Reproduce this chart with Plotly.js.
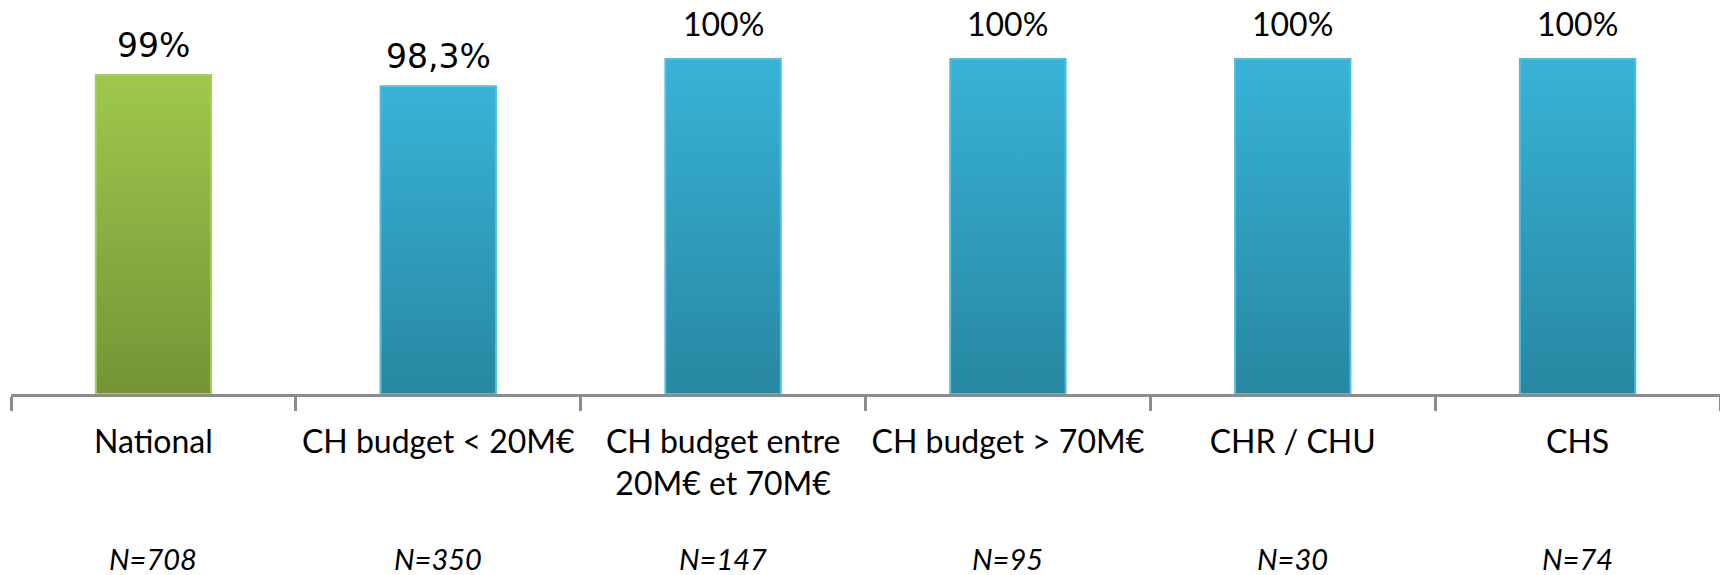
<!DOCTYPE html>
<html>
<head>
<meta charset="utf-8">
<script src="https://cdn.plot.ly/plotly-3.0.1.min.js"></script>
<style>
  html, body { margin: 0; padding: 0; background: #ffffff; }
  #chart { width: 1720px; height: 575px; }
</style>
</head>
<body>
<svg width="0" height="0" style="position:absolute">
  <defs>
    <linearGradient id="gGreen" x1="0" y1="0" x2="0" y2="1">
      <stop offset="0" stop-color="#9fc84c"/>
      <stop offset="1" stop-color="#749437"/>
    </linearGradient>
    <linearGradient id="gBlue" x1="0" y1="0" x2="0" y2="1">
      <stop offset="0" stop-color="#38b3d7"/>
      <stop offset="1" stop-color="#2887a1"/>
    </linearGradient>
  </defs>
</svg>
<div id="chart"></div>
<script>
// ---- data ----
const categories = [
  'National',
  'CH budget &lt; 20M€',
  'CH budget entre<br>20M€ et 70M€',
  'CH budget > 70M€',
  'CHR / CHU',
  'CHS'
];
const values = [99, 98.3, 100, 100, 100, 100];
const valueLabels = ['99%', '98,3%', '100%', '100%', '100%', '100%'];
const nLabels = ['N=708', 'N=350', 'N=147', 'N=95', 'N=30', 'N=74'];

// ---- styles ----
const Y_MIN = 79.06, Y_MAX = 103.69;
const GREEN = '#8db544', BLUE = '#31a1c2';
const barColors = categories.map((c, i) => i === 0 ? GREEN : BLUE);
const barLines = categories.map((c, i) => i === 0 ? '#a9cf5f' : '#4cbfe0');

const trace = {
  type: 'bar',
  x: categories,
  y: values.map(v => v - Y_MIN),
  base: Y_MIN,
  width: 0.405,
  marker: { color: barColors, line: { color: barLines, width: 2 } },
  hoverinfo: 'skip'
};

const annotations = [];
valueLabels.forEach((t, i) => {
  const special = i < 2;
  annotations.push({
    x: categories[i], y: values[i], xref: 'x', yref: 'y',
    text: t, showarrow: false, yanchor: 'bottom', yshift: special ? 8 : 14,
    font: special
      ? { family: 'DejaVu Sans, sans-serif', size: 33, color: '#000' }
      : { family: 'Lato, sans-serif', size: 32, color: '#000' }
  });
});
nLabels.forEach((t, i) => {
  annotations.push({
    x: categories[i], y: 0, xref: 'x', yref: 'paper',
    text: '<i>' + t + '</i>', showarrow: false, yanchor: 'middle', yshift: -164,
    font: { family: 'Lato, sans-serif', size: 29, color: '#000' }
  });
});

const layout = {
  width: 1720, height: 575,
  margin: { l: 11, r: 0, t: 0, b: 181, pad: 0 },
  paper_bgcolor: '#ffffff', plot_bgcolor: '#ffffff',
  showlegend: false,
  xaxis: {
    type: 'category',
    showline: true, linecolor: '#8c8c8c', linewidth: 3,
    ticks: 'outside', tickson: 'boundaries', ticklen: 14, tickwidth: 3, tickcolor: '#8c8c8c',
    tickangle: 0,
    tickfont: { family: 'Lato, sans-serif', size: 32, color: '#000' },
    ticklabelstandoff: 18,
    showgrid: false, zeroline: false, fixedrange: true
  },
  yaxis: {
    range: [Y_MIN, Y_MAX],
    showgrid: false, zeroline: false, showline: false, showticklabels: false, ticks: '',
    fixedrange: true
  },
  annotations: annotations
};

function applyGradients(gd) {
  gd.querySelectorAll('.trace.bars .point path').forEach((p, i) => {
    const u = i === 0 ? 'url(#gGreen)' : 'url(#gBlue)';
    p.style.setProperty('fill', u, 'important');
    p.setAttribute('fill', u);
  });
}

const gdiv = document.getElementById('chart');
const pr = Plotly.newPlot(gdiv, [trace], layout, { staticPlot: true, displayModeBar: false });
applyGradients(gdiv);
pr.then(gd => applyGradients(gd));
gdiv.on && gdiv.on('plotly_afterplot', () => applyGradients(gdiv));
</script>
</body>
</html>
